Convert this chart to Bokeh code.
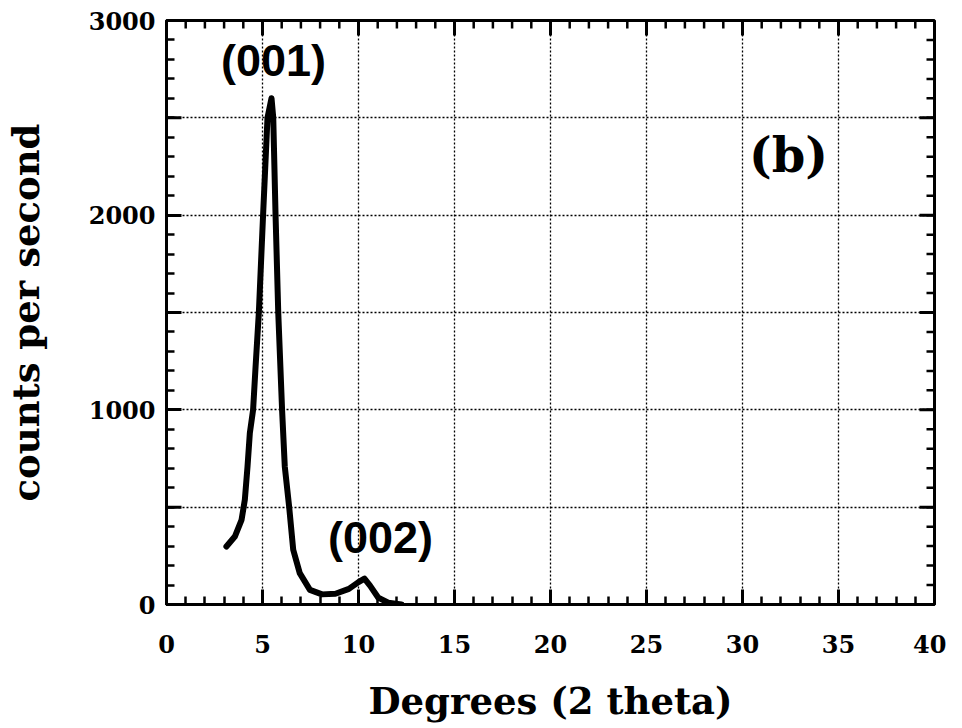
import math
from bokeh.plotting import figure
from bokeh.models import Range1d, FixedTicker, Label
from bokeh.embed import file_html
from bokeh.resources import INLINE

# ---- data ----
deg = [3.12, 3.56, 3.91, 4.08, 4.22, 4.34, 4.51, 4.64, 4.81, 5.03, 5.26, 5.47, 5.56,
       5.68, 5.82, 6.02, 6.16, 6.39, 6.6, 6.94, 7.47, 8.1, 8.8, 9.5, 10.0, 10.31,
       10.6, 11.03, 11.55, 12.24]
cps = [298, 349, 435, 538, 709, 880, 1000, 1223, 1500, 2000, 2500, 2601, 2500,
       2000, 1500, 1000, 709, 500, 281, 161, 75, 52, 55, 80, 115, 133,
       97, 35, 9, 0]

x_major = [0, 5, 10, 15, 20, 25, 30, 35, 40]
x_minor = list(range(0, 41))
y_labeled = [0, 1000, 2000, 3000]
y_half = [500, 1500, 2500]
y_grid = [0, 500, 1000, 1500, 2000, 2500, 3000]
y_minor = list(range(0, 3001, 100))

peak_labels = ["(001)", "(002)"]
peak_x = [5.57, 11.15]
peak_y = [2794, 345]
panel_label = "(b)"

X0, X1 = 0, 40
Y0, Y1 = 0, 3000

SERIF = "DejaVu Serif"
SANS = "Liberation Sans"
MAJ, MIN = 15, 8

p = figure(width=946, height=728,
           x_range=Range1d(X0, X1), y_range=Range1d(Y0, Y1),
           output_backend="svg", toolbar_location=None,
           min_border_left=161, min_border_right=12,
           min_border_top=20, min_border_bottom=124)
p.background_fill_color = "white"
p.border_fill_color = "white"
p.outline_line_color = "black"
p.outline_line_width = 3

xt = FixedTicker(ticks=x_major, minor_ticks=x_minor)
yt = FixedTicker(ticks=y_labeled, minor_ticks=y_minor)

for ax in (p.xaxis[0], p.yaxis[0]):
    ax.axis_line_color = "black"
    ax.axis_line_width = 3
    ax.major_tick_in = MAJ
    ax.major_tick_out = 0
    ax.minor_tick_in = MIN
    ax.minor_tick_out = 0
    ax.major_tick_line_width = 3
    ax.minor_tick_line_width = 2.5
    ax.major_tick_line_color = "black"
    ax.minor_tick_line_color = "black"
    ax.major_label_text_font = SERIF
    ax.major_label_text_font_style = "bold"
    ax.major_label_text_font_size = "24px"
    ax.major_label_text_color = "black"
    ax.axis_label_text_font = SERIF
    ax.axis_label_text_font_style = "bold"
    ax.axis_label_text_font_size = "37px"
    ax.axis_label_text_color = "black"

p.xaxis.ticker = xt
p.yaxis.ticker = yt
p.xaxis.major_label_standoff = 30
p.yaxis.major_label_standoff = 11
p.xaxis.axis_label = "Degrees (2 theta)"
p.yaxis.axis_label = "counts per second"
p.xaxis.axis_label_standoff = 23
p.yaxis.axis_label_standoff = 38

p.xgrid.ticker = FixedTicker(ticks=x_major)
p.ygrid.ticker = FixedTicker(ticks=y_grid)
for g in (p.xgrid[0], p.ygrid[0]):
    g.grid_line_color = "black"
    g.grid_line_dash = "2 2"
    g.grid_line_width = 1.3

# mirrored inward ticks on the top and right edges, and the 500-step ticks on the left
down, left_dir, right_dir = -math.pi / 2, math.pi, 0.0
p.ray(x=x_minor, y=[Y1] * len(x_minor), length=MIN, length_units="screen",
      angle=down, line_color="black", line_width=2.5)
p.ray(x=x_major, y=[Y1] * len(x_major), length=MAJ, length_units="screen",
      angle=down, line_color="black", line_width=3)
p.ray(x=[X1] * len(y_minor), y=y_minor, length=MIN, length_units="screen",
      angle=left_dir, line_color="black", line_width=2.5)
p.ray(x=[X1] * len(y_grid), y=y_grid, length=MAJ, length_units="screen",
      angle=left_dir, line_color="black", line_width=3)
p.ray(x=[X0] * len(y_half), y=y_half, length=MAJ, length_units="screen",
      angle=right_dir, line_color="black", line_width=3)

p.line(deg, cps, line_color="black", line_width=6, line_join="round", line_cap="round")

for t, x, y in zip(peak_labels, peak_x, peak_y):
    p.add_layout(Label(x=x, y=y, text=t, text_font=SANS, text_font_style="bold",
                       text_font_size="45px", text_align="center",
                       text_baseline="middle", text_color="black"))

p.add_layout(Label(x=32.4, y=2311, text=panel_label, text_font=SERIF,
                   text_font_style="bold", text_font_size="48px",
                   text_align="center", text_baseline="middle", text_color="black"))

open("out.html", "w").write(file_html(p, INLINE))
